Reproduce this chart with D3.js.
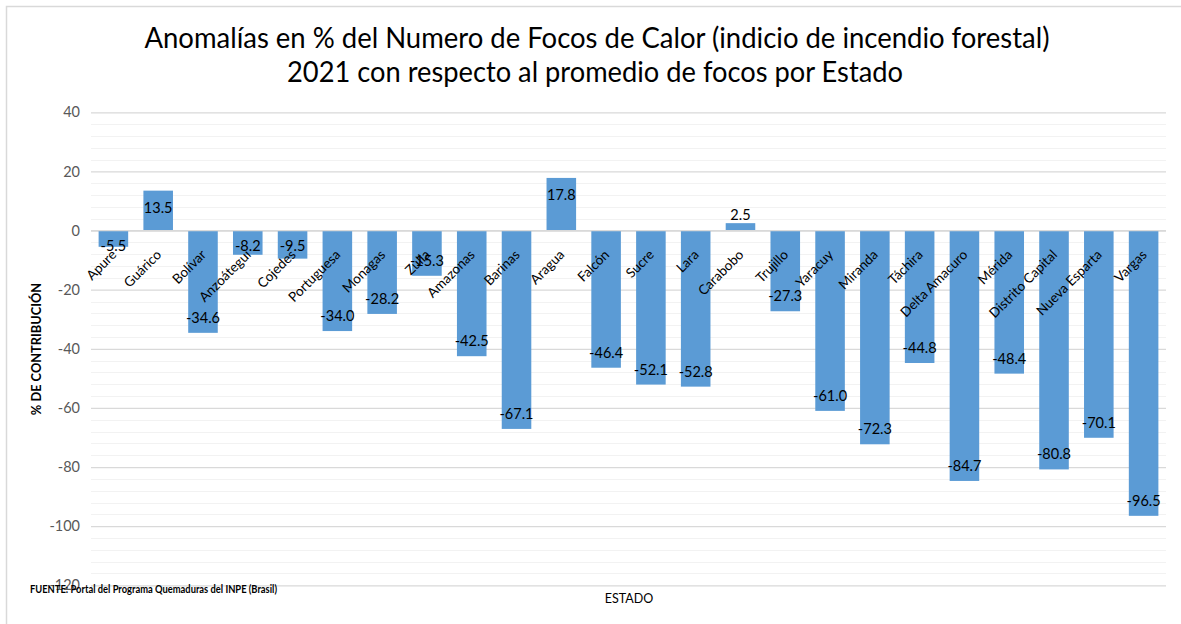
<!DOCTYPE html>
<html><head><meta charset="utf-8">
<script src="https://cdn.jsdelivr.net/npm/d3@7"></script>
<style>body{margin:0;background:#fff}svg{display:block}</style>
</head><body>
<svg id="c" width="1181" height="624"></svg>
<script>
const categories = ["Apure","Guárico","Bolívar","Anzoátegui","Cojedes","Portuguesa","Monagas","Zulia","Amazonas","Barinas","Aragua","Falcón","Sucre","Lara","Carabobo","Trujillo","Yaracuy","Miranda","Táchira","Delta Amacuro","Mérida","Distrito Capital","Nueva Esparta","Vargas"];
const values = [-5.5,13.5,-34.6,-8.2,-9.5,-34.0,-28.2,-15.3,-42.5,-67.1,17.8,-46.4,-52.1,-52.8,2.5,-27.3,-61.0,-72.3,-44.8,-84.7,-48.4,-80.8,-70.1,-96.5];
const yTicks = [40,20,0,-20,-40,-60,-80,-100,-120];
const titleLines = ["Anomalías en % del Numero de Focos de Calor (indicio de incendio forestal)","2021 con respecto al promedio de focos por Estado"];
const yTitle = "% DE CONTRIBUCIÓN";
const xTitle = "ESTADO";
const source = "FUENTE:  Portal del Programa Quemaduras del INPE (Brasil)";

const svg = d3.select("#c");
const font = "Lato, 'Open Sans', sans-serif";
const W = 1181, H = 624;
const m = {left: 91, right: 1166, top: 112.3, bottom: 585.3};
const hy = s => s.replace("\u2212", "-");

// frame
svg.append("path").attr("d", `M6.5,${H} V6.5 H${W}`).attr("fill","none").attr("stroke","#d9d9d9").attr("stroke-width",1.5);

const x = d3.scaleBand().domain(categories).range([m.left, m.right]).paddingInner(0.34).paddingOuter(0.17);
const y = d3.scaleLinear().domain([-120, 40]).range([m.bottom, m.top]);

// minor gridlines
const minor = d3.range(-120, 40.01, 4).filter(v => v % 20 !== 0);
svg.append("g").selectAll("line").data(minor).join("line")
  .attr("x1", m.left).attr("x2", m.right)
  .attr("y1", d => Math.round(y(d)) + 0.5).attr("y2", d => Math.round(y(d)) + 0.5)
  .attr("stroke", "#f2f2f2").attr("stroke-width", 1);

// major gridlines + axis
const yAxis = d3.axisLeft(y).tickValues(yTicks).tickSize(-(m.right - m.left)).tickPadding(11).tickFormat(d => hy(d3.format("d")(d)));
const gy = svg.append("g").attr("transform", `translate(${m.left},0)`).call(yAxis);
gy.select(".domain").remove();
gy.selectAll(".tick line").attr("stroke", "#d9d9d9").attr("stroke-width", 1.2);
gy.selectAll(".tick text").attr("fill", "#595959").style("font-family", font).style("font-size", "14.5px");

// bars
svg.append("g").selectAll("rect").data(values).join("rect")
  .attr("x", (d, i) => x(categories[i]))
  .attr("width", x.bandwidth())
  .attr("y", d => y(Math.max(0, d)))
  .attr("height", d => Math.abs(y(d) - y(0)))
  .attr("fill", "#5b9bd5");

// zero line
svg.append("line").attr("x1", m.left).attr("x2", m.right).attr("y1", y(0)).attr("y2", y(0)).attr("stroke", "#d9d9d9").attr("stroke-width", 1.2);

// data labels
svg.append("g").selectAll("text").data(values).join("text")
  .attr("x", (d, i) => x(categories[i]) + x.bandwidth() / 2)
  .attr("y", d => {
    if (d >= 0) {
      const top = y(d);
      return (y(0) - top) < 30 ? top - 8 : top + 17;
    }
    return Math.max(y(d) - 15, y(0) + 15);
  })
  .attr("dy", "0.35em")
  .attr("text-anchor", "middle")
  .style("font-family", font).style("font-size", "14.5px").attr("fill", "#000")
  .text(d => hy(d3.format(".1f")(d)));

// category labels
svg.append("g").selectAll("text").data(categories).join("text")
  .attr("transform", d => `translate(${x(d) + x.bandwidth() / 2 + 4},${y(0) + 25}) rotate(-45)`)
  .attr("text-anchor", "end")
  .style("font-family", font).style("font-size", "13.5px").attr("fill", "#000")
  .text(d => d);

// title
const tt = svg.append("g");
tt.append("text").attr("x", 597).attr("y", 48).attr("text-anchor", "middle")
  .attr("textLength", 905).attr("lengthAdjust", "spacingAndGlyphs")
  .style("font-family", font).style("font-size", "28px").attr("fill", "#000").text(titleLines[0]);
tt.append("text").attr("x", 595).attr("y", 82).attr("text-anchor", "middle")
  .attr("textLength", 616).attr("lengthAdjust", "spacingAndGlyphs")
  .style("font-family", font).style("font-size", "28px").attr("fill", "#000").text(titleLines[1]);

// y title
svg.append("text").attr("transform", "translate(41,349) rotate(-90)").attr("text-anchor", "middle")
  .style("font-family", font).style("font-size", "12.8px").style("font-weight", "bold").attr("fill", "#000").text(yTitle);

// x title
svg.append("text").attr("x", 629).attr("y", 603).attr("text-anchor", "middle")
  .style("font-family", font).style("font-size", "12.5px").attr("fill", "#000").text(xTitle);

// source
svg.append("text").attr("x", 30).attr("y", 593)
  .attr("textLength", 247).attr("lengthAdjust", "spacingAndGlyphs")
  .style("font-family", font).style("font-size", "10.5px").style("font-weight", "bold").attr("fill", "#000").text(source);
</script>
</body></html>
